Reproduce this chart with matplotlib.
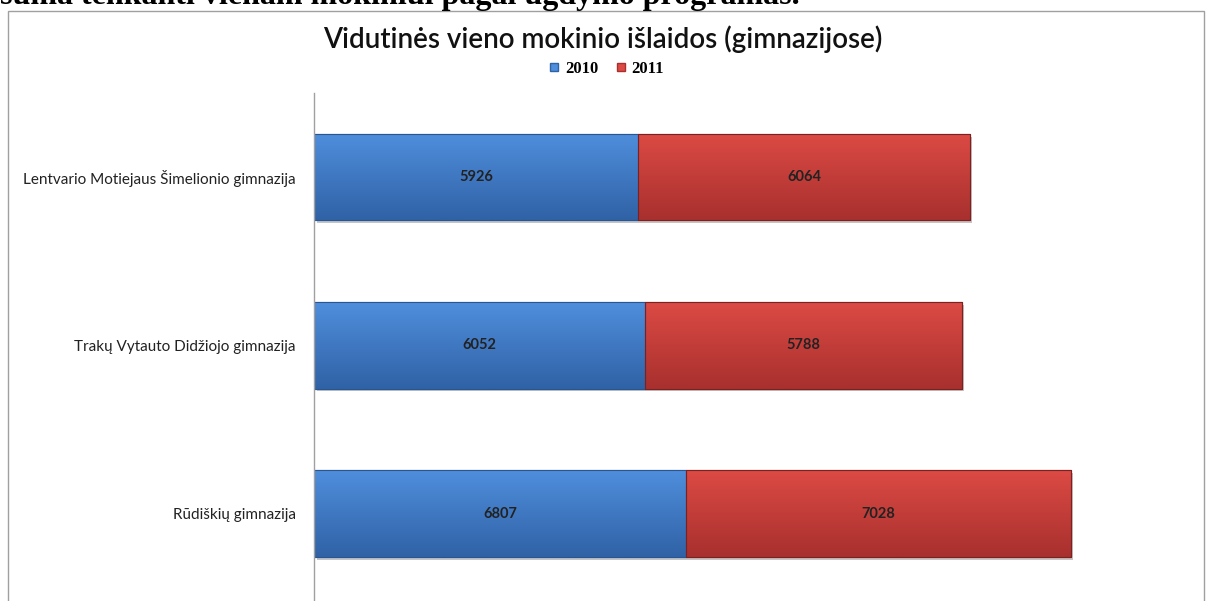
import numpy as np
import matplotlib; matplotlib.use("Agg")
import matplotlib.pyplot as plt
import matplotlib.patheffects as pe
from matplotlib.patches import Rectangle
from matplotlib.lines import Line2D

# duomenys
schools = ["Rūdiškių gimnazija",
           "Trakų Vytauto Didžiojo gimnazija",
           "Lentvario Motiejaus Šimelionio gimnazija"]
years = ["2010", "2011"]
v2010 = [6807, 6052, 5926]
v2011 = [7028, 5788, 6064]

BLUE_T = np.array([0x4f, 0x8e, 0xdc]) / 255; BLUE_B = np.array([0x30, 0x62, 0xa6]) / 255
RED_T = np.array([0xdc, 0x4a, 0x44]) / 255; RED_B = np.array([0xa8, 0x30, 0x2e]) / 255
TXT = "#222222"

W, H = 1206, 601
fig = plt.figure(figsize=(W / 100, H / 100), dpi=100)

def fx(px): return px / W
def fy(py): return 1 - py / H

# cut-off heading of the document above the chart
fig.text(fx(0), fy(4), "suma tenkanti vienam mokiniui pagal ugdymo programas.",
         family="Liberation Serif", weight="bold", fontsize=23,
         ha="left", va="baseline", color="black")

# chart frame
fig.patches.append(Rectangle((fx(8), fy(620)), fx(1204) - fx(8), fy(11) - fy(620),
                             transform=fig.transFigure, fill=False, ec="#a0a0a0",
                             lw=1.0, zorder=0))

fig.text(0.5, fy(39), "Vidutinės vieno mokinio išlaidos (gimnazijose)",
         family="Lato", weight="semibold", fontsize=20, ha="center", va="center",
         color="#111111")

ax = fig.add_axes([fx(314), fy(601), fx(1189) - fx(314), fy(93) - fy(601)])
ax.patch.set_alpha(0)
y = np.arange(len(schools))
shadow = [pe.SimplePatchShadow(offset=(2, -2), alpha=0.25), pe.Normal()]
b1 = ax.barh(y, v2010, height=0.515, color=BLUE_B, edgecolor="#2a5590", lw=0.8,
             path_effects=shadow)
b2 = ax.barh(y, v2011, left=v2010, height=0.515, color=RED_B, edgecolor="#7a2222", lw=0.8,
             path_effects=shadow)

# vertical gradient inside each bar (light on top, darker at the bottom)
for bars, top, bot in ((b1, BLUE_T, BLUE_B), (b2, RED_T, RED_B)):
    t = np.linspace(0, 1, 64)[:, None]
    grad = (top[None, None, :] * (1 - t[..., None]) + bot[None, None, :] * t[..., None])
    for b in bars:
        x0, y0, w, h = b.get_x(), b.get_y(), b.get_width(), b.get_height()
        im = ax.imshow(grad, extent=[x0, x0 + w, y0, y0 + h], aspect="auto",
                       origin="upper", zorder=b.get_zorder() + 0.1, interpolation="bilinear")
        im.set_clip_path(b)
        ax.add_patch(Rectangle((x0, y0), w, h, fill=False,
                               ec=b.get_edgecolor(), lw=0.8, zorder=b.get_zorder() + 0.2))

for bars, vals in ((b1, v2010), (b2, v2011)):
    for b, v in zip(bars, vals):
        ax.text(b.get_x() + b.get_width() / 2, b.get_y() + b.get_height() / 2, str(v),
                ha="center", va="center", fontsize=10.5, family="Lato", weight="bold",
                color=TXT, zorder=5)

ax.set_xlim(0, 16000)
ax.set_ylim(-0.52, 2.5)
ax.set_yticks(y)
ax.set_yticklabels(schools, family="Lato", fontsize=11, color=TXT)
ax.tick_params(axis="y", length=0, pad=13)
ax.set_xticks([])
for s in ("top", "right", "bottom"):
    ax.spines[s].set_visible(False)
ax.spines["left"].set_color("#a0a0a0")
ax.spines["left"].set_linewidth(1.0)

handles = [Line2D([], [], ls="none", marker="s", ms=6, mfc=BLUE_T, mec=BLUE_B),
           Line2D([], [], ls="none", marker="s", ms=6, mfc=RED_T, mec=RED_B)]
fig.legend(handles, years, loc="center", bbox_to_anchor=(fx(606), fy(69)),
           ncol=2, frameon=False, handlelength=0.7, handletextpad=0.3,
           columnspacing=1.0, prop={"family": "Liberation Serif", "size": 12,
                                    "weight": "bold"})

fig.savefig("out.png", dpi=100)
plt.close(fig)
